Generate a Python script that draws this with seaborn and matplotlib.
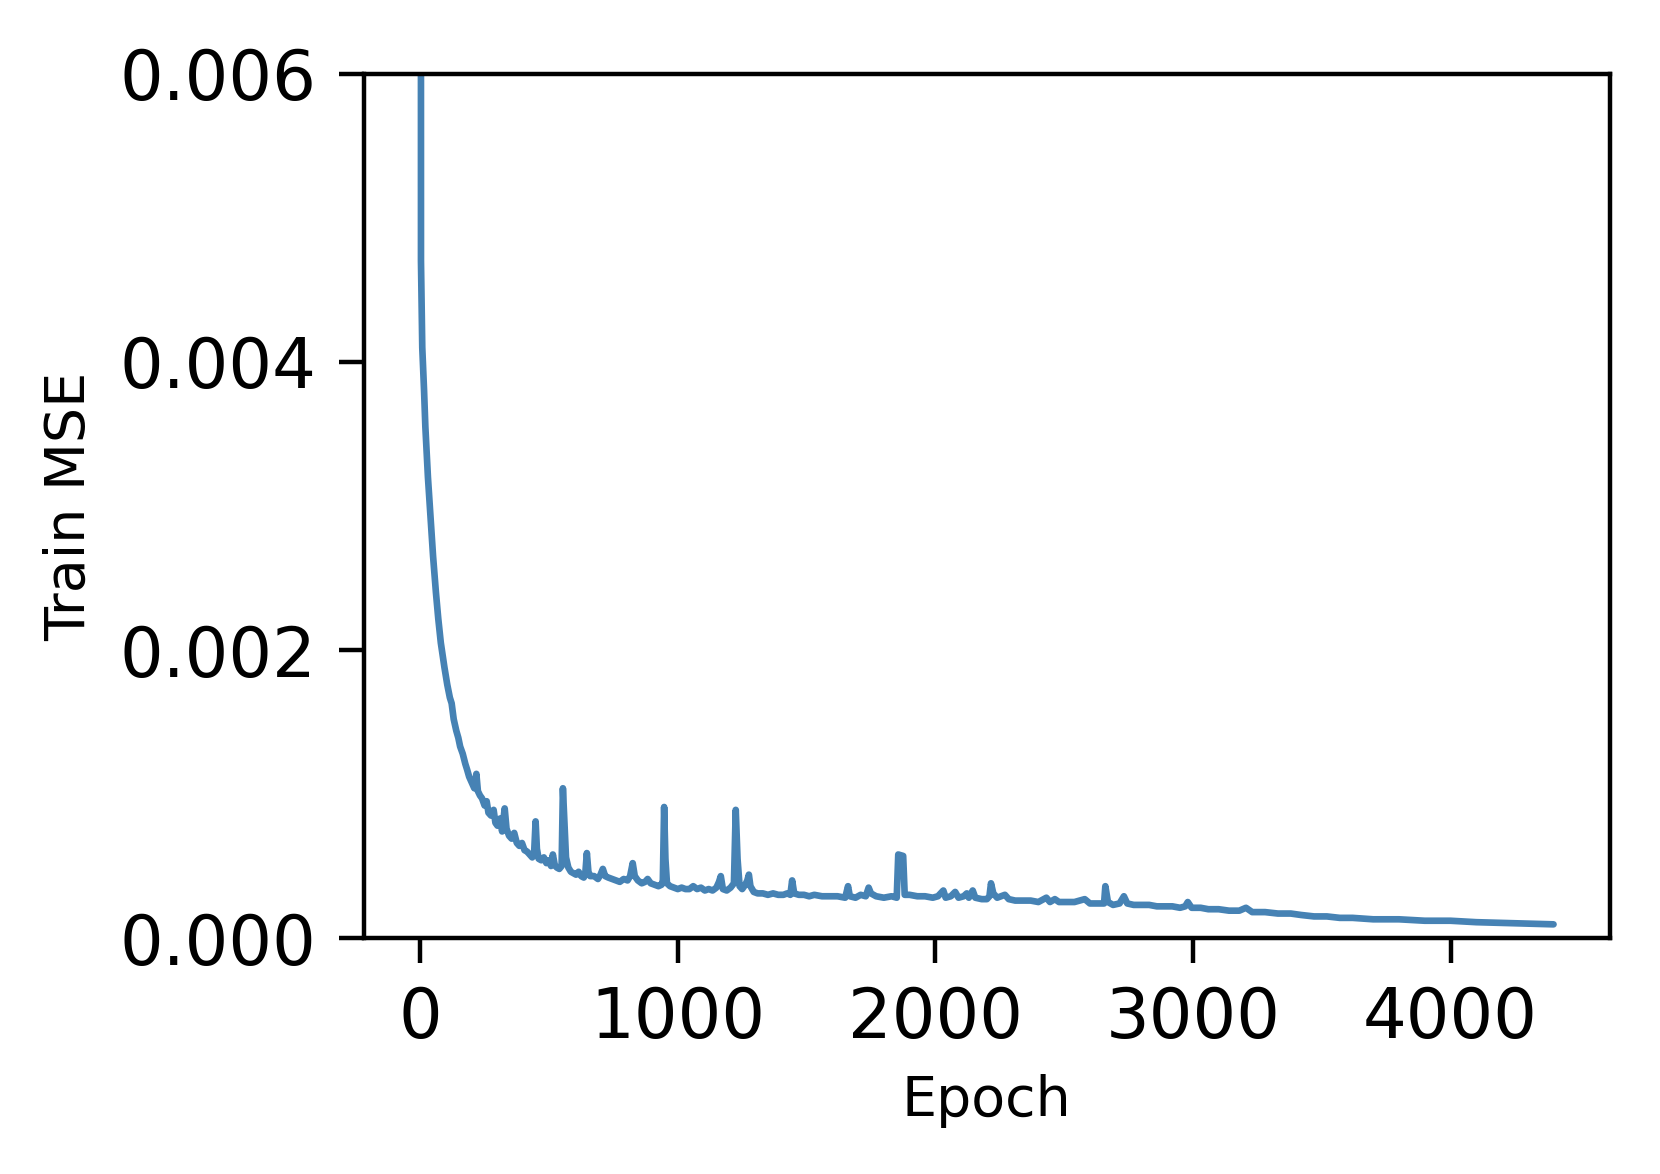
import matplotlib
matplotlib.use("Agg")
import matplotlib.pyplot as plt
import seaborn as sns

# training curve (epoch, train MSE)
epochs = [0, 3, 8, 15, 20, 30, 41, 50, 61, 70, 80, 94, 105, 115, 122, 130, 140, 148, 155, 165,
          175, 182, 190, 200, 210, 218, 224, 232, 240, 250, 258, 265, 275, 285, 292, 300, 310, 318,
          328, 335, 345, 355, 365, 375, 385, 395, 405, 415, 425, 435, 442, 448, 453, 460, 470, 480,
          490, 500, 508, 515, 522, 530, 540, 549, 554, 560, 566, 575, 585, 595, 605, 615, 625, 635,
          641, 647, 653, 660, 675, 690, 700, 709, 718, 730, 745, 760, 775, 790, 805, 815, 825, 833,
          845, 860, 873, 883, 895, 910, 925, 937, 942, 947, 952, 958, 970, 985, 1000, 1015, 1030,
          1045, 1060, 1075, 1090, 1105, 1120, 1135, 1150, 1160, 1167, 1175, 1190, 1205, 1218, 1225,
          1232, 1240, 1250, 1262, 1270, 1276, 1282, 1295, 1310, 1330, 1350, 1370, 1390, 1410, 1425,
          1437, 1444, 1452, 1470, 1490, 1510, 1530, 1560, 1590, 1620, 1650, 1661, 1668, 1690, 1710,
          1730, 1741, 1750, 1770, 1800, 1830, 1850, 1856, 1875, 1881, 1900, 1930, 1960, 1990, 2010,
          2031, 2040, 2060, 2077, 2090, 2110, 2122, 2130, 2145, 2155, 2180, 2200, 2210, 2216, 2225,
          2240, 2255, 2270, 2285, 2310, 2340, 2370, 2400, 2431, 2445, 2464, 2480, 2510, 2540, 2560,
          2580, 2600, 2630, 2655, 2660, 2670, 2690, 2715, 2732, 2745, 2770, 2800, 2830, 2860, 2890,
          2920, 2950, 2970, 2980, 2995, 3030, 3060, 3100, 3140, 3180, 3206, 3230, 3280, 3330, 3380,
          3420, 3470, 3520, 3570, 3620, 3700, 3800, 3900, 4000, 4100, 4200, 4300, 4400]

mse = [0.0500, 0.0047, 0.0041, 0.0038, 0.00355, 0.0032, 0.0029, 0.00265, 0.0024, 0.00222,
       0.00205, 0.00188, 0.00176, 0.00167, 0.00163, 0.00152, 0.00144, 0.00139, 0.00133, 0.00128,
       0.00121, 0.00117, 0.00112, 0.00108, 0.00104, 0.00114, 0.00102, 0.00099, 0.00097, 0.00092,
       0.00095, 0.00087, 0.00085, 0.00089, 0.00080, 0.00078, 0.00083, 0.00074, 0.00090, 0.00076,
       0.00071, 0.00069, 0.00073, 0.00066, 0.00064, 0.00066, 0.00061, 0.00060, 0.00058, 0.00056,
       0.00058, 0.00081, 0.00062, 0.00055, 0.00054, 0.00056, 0.00052, 0.00054, 0.00050, 0.00058,
       0.00051, 0.00049, 0.00048, 0.00050, 0.00104, 0.00080, 0.00056, 0.00049, 0.00046, 0.00045,
       0.00044, 0.00046, 0.00043, 0.00042, 0.00045, 0.00059, 0.00046, 0.00043, 0.00043, 0.00041,
       0.00044, 0.00048, 0.00043, 0.00042, 0.00041, 0.00040, 0.00039, 0.00041, 0.00040, 0.00043,
       0.00052, 0.00043, 0.00040, 0.00038, 0.00039, 0.00041, 0.00038, 0.00037, 0.00036, 0.00037,
       0.00040, 0.00091, 0.00055, 0.00038, 0.00036, 0.00035, 0.00034, 0.00035, 0.00034, 0.00034,
       0.00036, 0.00034, 0.00035, 0.00033, 0.00034, 0.00033, 0.00035, 0.00039, 0.00043, 0.00034,
       0.00033, 0.00035, 0.00038, 0.00089, 0.00055, 0.00036, 0.00034, 0.00037, 0.00040, 0.00044,
       0.00036, 0.00032, 0.00031, 0.00031, 0.00030, 0.00031, 0.00030, 0.00030, 0.00031, 0.00030,
       0.00040, 0.00031, 0.00030, 0.00030, 0.00029, 0.00030, 0.00029, 0.00029, 0.00029, 0.00028,
       0.00036, 0.00029, 0.00028, 0.00030, 0.00029, 0.00035, 0.00031, 0.00029, 0.00028, 0.00029,
       0.00028, 0.00058, 0.00057, 0.00030, 0.00030, 0.00029, 0.00029, 0.00028, 0.00029, 0.00033,
       0.00028, 0.00029, 0.00032, 0.00028, 0.00029, 0.00031, 0.00028, 0.00033, 0.00028, 0.00027,
       0.00027, 0.00029, 0.00038, 0.00031, 0.00028, 0.00029, 0.00030, 0.00027, 0.00026, 0.00026,
       0.00026, 0.00025, 0.00028, 0.00025, 0.00027, 0.00025, 0.00025, 0.00025, 0.00026, 0.00027,
       0.00024, 0.00024, 0.00024, 0.00036, 0.00025, 0.00023, 0.00024, 0.00029, 0.00024, 0.00023,
       0.00023, 0.00023, 0.00022, 0.00022, 0.00022, 0.00021, 0.00022, 0.00025, 0.00021, 0.00021,
       0.00020, 0.00020, 0.00019, 0.00019, 0.00021, 0.00018, 0.00018, 0.00017, 0.00017, 0.00016,
       0.00015, 0.00015, 0.00014, 0.00014, 0.00013, 0.00013, 0.00012, 0.00012, 0.00011, 0.000105,
       0.000100, 0.000095]

y_ticks = [0.000, 0.002, 0.004, 0.006]
x_ticks = [0, 1000, 2000, 3000, 4000]

sns.set_style("ticks", {"axes.edgecolor": "black", "xtick.color": "black",
                        "ytick.color": "black", "text.color": "black",
                        "axes.labelcolor": "black"})

fig, ax = plt.subplots(figsize=(4.15, 2.935), dpi=400)
fig.subplots_adjust(left=0.219, right=0.970, bottom=0.201, top=0.937)

sns.lineplot(x=epochs, y=mse, color="steelblue", linewidth=1.2, ax=ax)

ax.set_ylim(0, 0.006)
ax.set_yticks(y_ticks)
ax.set_xticks(x_ticks)
ax.tick_params(axis="both", labelsize=12.4, length=4.5, width=0.8, pad=4)
ax.set_xlabel("Epoch", fontsize=10)
ax.set_ylabel("Train MSE", fontsize=10)

plt.savefig("out.png", dpi=400)
